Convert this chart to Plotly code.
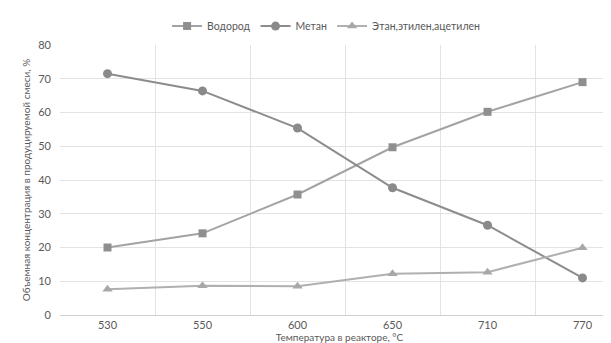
import plotly.graph_objects as go

categories = ["530", "550", "600", "650", "710", "770"]
hydrogen = [20.0, 24.2, 35.7, 49.7, 60.2, 69.0]
methane = [71.5, 66.4, 55.4, 37.7, 26.6, 11.0]
ethane = [7.6, 8.7, 8.5, 12.2, 12.7, 19.9]
y_ticks = [0, 10, 20, 30, 40, 50, 60, 70, 80]

FONT = "Lato, Open Sans, sans-serif"

fig = go.Figure()
fig.add_trace(go.Scatter(
    x=categories, y=hydrogen, name="Водород", mode="lines+markers",
    line=dict(color="#a3a3a3", width=2),
    marker=dict(symbol="square", size=8, color="#8f8f8f")))
fig.add_trace(go.Scatter(
    x=categories, y=methane, name="Метан", mode="lines+markers",
    line=dict(color="#8c8c8c", width=2),
    marker=dict(symbol="circle", size=9, color="#8a8a8a")))
fig.add_trace(go.Scatter(
    x=categories, y=ethane, name="Этан,этилен,ацетилен", mode="lines+markers",
    line=dict(color="#b0b0b0", width=2),
    marker=dict(symbol="triangle-up", size=9, color="#a8a8a8")))

fig.update_layout(
    width=611, height=343,
    margin=dict(l=52, r=0, t=37, b=36, autoexpand=False),
    paper_bgcolor="white", plot_bgcolor="white",
    font=dict(family=FONT, size=11, color="#595959"),
    legend=dict(orientation="h", x=0.476, xanchor="center", y=1.07, yanchor="middle",
                font=dict(size=10.5, color="#595959"), itemwidth=30,
                tracegroupgap=0),
    showlegend=True,
)
fig.update_xaxes(
    type="category", tickson="boundaries", range=[-0.5, 5.384],
    automargin=False,
    showgrid=True, gridcolor="#e3e3e3", gridwidth=1,
    showline=True, linecolor="#d0d0d0", linewidth=1,
    ticks="", tickfont=dict(size=11, color="#595959"),
    title=dict(text="Температура в реакторе, °C", font=dict(size=10, color="#595959"), standoff=2),
)
fig.update_yaxes(
    range=[0, 80], tickvals=y_ticks, automargin=False,
    showgrid=True, gridcolor="#e3e3e3", gridwidth=1,
    zeroline=False, showline=False, ticks="",
    ticklabelstandoff=8, tickfont=dict(size=11, color="#595959"),
    title=dict(text="Объемная концентрация в продуцируемой смеси, %",
               font=dict(size=10, color="#595959"), standoff=5),
)

fig.write_html("out.html")
